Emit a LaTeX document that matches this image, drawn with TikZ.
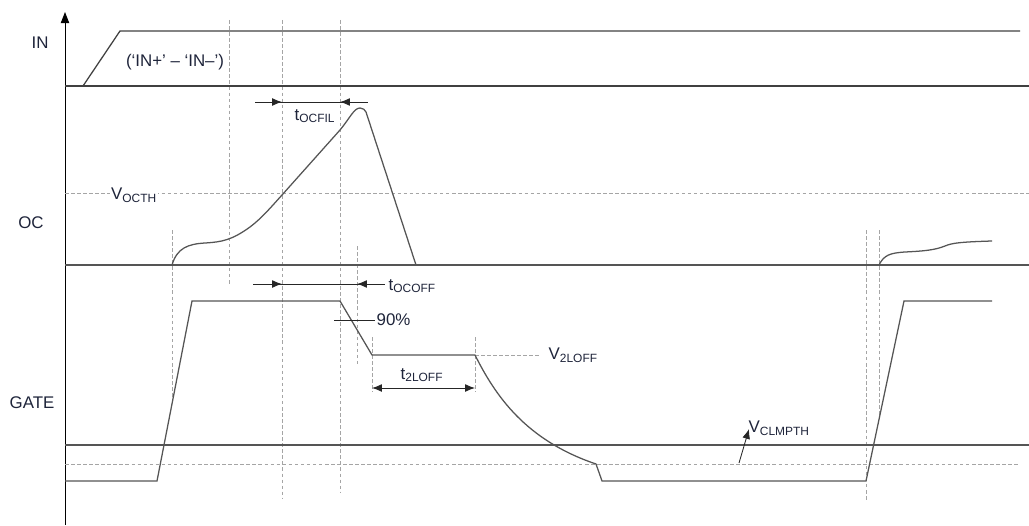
\documentclass[tikz,border=0pt]{standalone}
\usepackage{fontspec}
\setmainfont{Liberation Sans}
\usetikzlibrary{arrows.meta}
\definecolor{sigcol}{RGB}{85,85,85}
\definecolor{gridcol}{RGB}{165,165,165}
\definecolor{txtcol}{RGB}{30,36,58}
\tikzset{
  signal/.style={sigcol, line width=0.9pt},
  guide/.style={gridcol, line width=0.5pt, dash pattern=on 2.5pt off 1.8pt},
  dimline/.style={black!85, line width=0.6pt},
  tip/.style={-{Latex[length=7pt,width=5.5pt]}},
  lbl/.style={text=txtcol, font=\fontsize{12}{14}\selectfont, inner sep=1pt},
}
\newcommand{\sub}[1]{\textsubscript{\fontsize{8.5}{9}\selectfont #1}}
\begin{document}
\begin{tikzpicture}[x=0.025cm, y=-0.025cm]
  \useasboundingbox (0,0) rectangle (1029,525);

  % axis
  \draw[black, line width=0.7pt, -{Triangle[length=8pt,width=6pt]}] (65,525) -- (65,12);

  % guide lines (dashed)
  \draw[guide] (65,193) -- (1029,193);
  \draw[guide] (65,464) -- (1020,464);
  \draw[guide] (229,20) -- (229,284);
  \draw[guide] (282,20) -- (282,498);
  \draw[guide] (340,20) -- (340,492);
  \draw[guide] (172,230) -- (172,404);
  \draw[guide] (357,246) -- (357,365);
  \draw[guide] (372,337) -- (372,392);
  \draw[guide] (475,337) -- (475,392);
  \draw[guide] (475,355) -- (540,355);
  \draw[guide] (866,230) -- (866,502);
  \draw[guide] (879,230) -- (879,419);

  % IN
  \draw[black!75, line width=0.8pt] (65,86) -- (1029,86);
  \draw[black!75, line width=0.9pt] (83,86) -- (120,31) -- (1020,31);
  \node[lbl] (inlbl) at (40,43) {IN};
  \node[lbl] (indiff) at (175,62) {(‘IN+’ – ‘IN–’)};

  % OC
  \draw[signal] (65,265) -- (1029,265);
  \draw[signal] (172,265) .. controls (177,248) and (188,244) .. (205,243)
    .. controls (222,242) and (232,240) .. (250,227)
    .. controls (262,218) and (272,206) .. (282,195)
    -- (340,130)
    .. controls (350,118) and (354,108) .. (360,108)
    .. controls (363,108) and (365,110) .. (366,112)
    -- (416,265);
  \draw[signal] (879,265) .. controls (884,255) and (890,253) .. (905,252)
    .. controls (925,251) and (935,250) .. (945,246)
    .. controls (952,243) and (960,242) .. (992,241);
  \node[lbl] (oclbl) at (31,223) {OC};
  \node[lbl, fill=white] (vocth) at (134,195) {V\sub{OCTH}};

  % GATE
  \draw[signal] (65,445) -- (1029,445);
  \draw[signal] (65,481) -- (157,481) -- (192,301) -- (340,301) -- (372,355) -- (475,355)
    .. controls (495,395) and (525,440) .. (596,464)
    -- (602,481) -- (866,481) -- (904,301) -- (992,301);
  \node[lbl] (gatelbl) at (32,403) {GATE};

  % tOCFIL
  \draw[dimline] (255,102) -- (368,102);
  \draw[dimline, tip] (265,102) -- (282,102);
  \draw[dimline, tip] (357,102) -- (340,102);
  \node[lbl] (tocfil) at (315,116) {t\sub{OCFIL}};

  % tOCOFF
  \draw[dimline] (253,284) -- (385,284);
  \draw[dimline, tip] (265,284) -- (282,284);
  \draw[dimline, tip] (372,284) -- (357,284);
  \node[lbl, anchor=west] (tocoff) at (387,286) {t\sub{OCOFF}};

  % 90%
  \draw[dimline] (334,320) -- (375,320);
  \node[lbl, anchor=west] (ninety) at (375,320) {90\%};

  % t2LOFF
  \draw[dimline, {Latex[length=7pt,width=5.5pt]}-{Latex[length=7pt,width=5.5pt]}] (372,388) -- (475,388);
  \node[lbl] (tlofflbl) at (422,375) {t\sub{2LOFF}};
  \node[lbl, anchor=west] (vlofflbl) at (547,355) {V\sub{2LOFF}};

  % VCLMPTH
  \draw[dimline, tip] (739,463) -- (749,429);
  \node[lbl, anchor=west] (vclmpth) at (747,428) {V\sub{CLMPTH}};
\end{tikzpicture}
\end{document}
